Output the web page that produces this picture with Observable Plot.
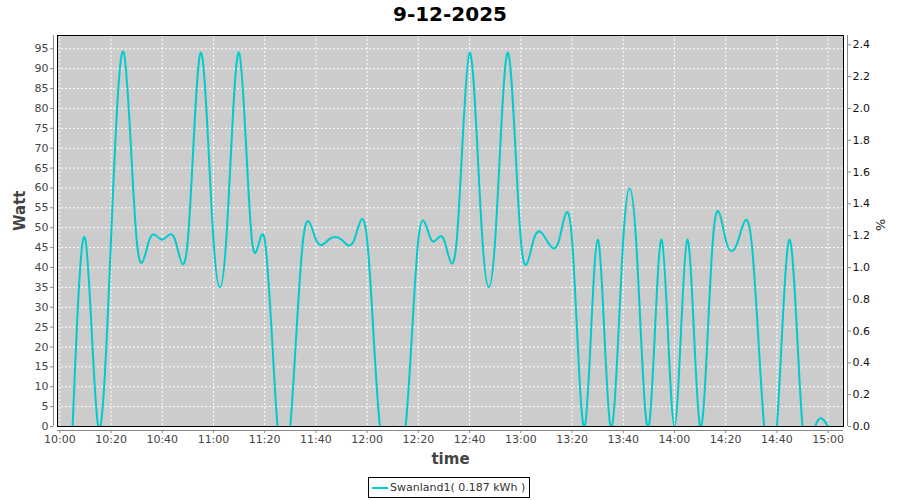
<!DOCTYPE html>
<html>
<head>
<meta charset="utf-8">
<script src="https://cdn.jsdelivr.net/npm/d3@7"></script>
<script src="https://cdn.jsdelivr.net/npm/@observablehq/plot@0.6"></script>
<style>
  body { margin: 0; background: #ffffff; }
  #wrap { position: relative; width: 900px; height: 500px; font-family: "DejaVu Sans", sans-serif; }
  #chart { position: absolute; left: 0; top: 0; }
  #title { position: absolute; left: 0; top: 2px; width: 900px; text-align: center;
           font-weight: bold; font-size: 20px; color: #000; line-height: 24px; }
  #legend { position: absolute; left: 368px; top: 477px; height: 19px; padding: 0 4px 0 3px;
            border: 1px solid #000; background: #fff; font-size: 11px; color: #333;
            display: flex; align-items: center; white-space: nowrap; }
  #legend .sw { display: inline-block; width: 16px; height: 2px; background: #00cccc; margin-right: 2px; }
</style>
</head>
<body>
<div id="wrap">
  <div id="chart"></div>
  <div id="title"></div>
  <div id="legend"><span class="sw"></span><span id="legtext"></span></div>
</div>
<script>
// ---- data ----
const chartTitle = "9-12-2025";
const seriesName = "Swanland1( 0.187 kWh )";
const times = [
  "10:05","10:10","10:15","10:20","10:25","10:30","10:35","10:40","10:45","10:50","10:55",
  "11:00","11:05","11:10","11:15","11:20","11:25","11:30","11:35","11:40","11:45","11:50","11:55",
  "12:00","12:05","12:10","12:15","12:20","12:25","12:30","12:35","12:40","12:45","12:50","12:55",
  "13:00","13:05","13:10","13:15","13:20","13:25","13:30","13:35","13:40","13:45","13:50","13:55",
  "14:00","14:05","14:10","14:15","14:20","14:25","14:30","14:35","14:40","14:45","14:50","14:55",
  "15:00"
];
const watts = [
  0,47,0,47,94,47,47,47,47,47,94,
  47,47,94,47,47,0,0,47,47,47,47,47,
  47,0,0,0,47,47,47,47,94,47,47,94,
  47,47,47,47,47,0,47,0,47,47,0,47,
  0,47,0,47,47,47,47,0,0,47,0,0,
  0
];
const wattTicks = [0,5,10,15,20,25,30,35,40,45,50,55,60,65,70,75,80,85,90,95];
const pctTicks = [0,0.2,0.4,0.6,0.8,1.0,1.2,1.4,1.6,1.8,2.0,2.2,2.4];
const timeTickLabels = ["10:00","10:20","10:40","11:00","11:20","11:40","12:00","12:20","12:40",
  "13:00","13:20","13:40","14:00","14:20","14:40","15:00"];
const wattPerPct = 40;

// ---- build ----
const parse = d3.utcParse("%H:%M");
const data = times.map((t, i) => ({time: parse(t), watt: watts[i]}));
const timeTicks = timeTickLabels.map(parse);
const xMin = new Date(parse("10:00").getTime() - 0.9 * 60000);
const xMax = new Date(parse("15:00").getTime() + 6 * 60000);
const fmt = d3.utcFormat("%H:%M");

document.getElementById("title").textContent = chartTitle;
document.getElementById("legtext").textContent = seriesName;

const chart = Plot.plot({
  width: 900,
  height: 500,
  marginLeft: 57,
  marginRight: 57,
  marginTop: 35,
  marginBottom: 74,
  style: {fontFamily: "DejaVu Sans, sans-serif", fontSize: "11px", background: "transparent", overflow: "visible"},
  x: {type: "utc", domain: [xMin, xMax]},
  y: {domain: [0, 98.35]},
  marks: [
    Plot.frame({fill: "#cccccc"}),
    Plot.gridY({ticks: wattTicks.filter(v => v > 0), stroke: "#ffffff", strokeOpacity: 1, strokeWidth: 1, strokeDasharray: "2,2"}),
    Plot.gridX({ticks: timeTicks, stroke: "#ffffff", strokeOpacity: 1, strokeWidth: 1, strokeDasharray: "2,2"}),
    Plot.lineY(data, {x: "time", y: "watt", curve: "natural", stroke: "#00cccc", strokeWidth: 2, clip: true}),
    Plot.frame({stroke: "#000000", strokeWidth: 1}),
    // axis lines
    Plot.ruleX([xMin], {dx: -4, stroke: "#888888"}),
    Plot.ruleX([xMax], {dx: 4, stroke: "#888888"}),
    Plot.ruleY([0], {dy: 4, stroke: "#888888"}),
    // axes
    Plot.axisY({anchor: "left", ticks: wattTicks, dx: -4, tickSize: 3, tickPadding: 2, label: null,
      stroke: "#888888", fill: "#444444", tickFormat: d => String(d)}),
    Plot.axisY({anchor: "right", ticks: pctTicks.map(p => p * wattPerPct), dx: 4, tickSize: 3, tickPadding: 2, label: null,
      stroke: "#888888", fill: "#111111", tickFormat: d => (d / wattPerPct).toFixed(1)}),
    Plot.axisX({anchor: "bottom", ticks: timeTicks, dy: 4, tickSize: 3, tickPadding: 2, label: null,
      stroke: "#888888", fill: "#444444", tickFormat: fmt}),
    // axis labels
    Plot.text(["Watt"], {frameAnchor: "left", dx: -37, rotate: -90, fontWeight: "bold", fontSize: 15, fill: "#444444"}),
    Plot.text(["%"], {frameAnchor: "right", dx: 37, rotate: 90, fontSize: 13, fill: "#222222"}),
    Plot.text(["time"], {frameAnchor: "bottom", dy: 37, fontWeight: "bold", fontSize: 15, fill: "#444444"})
  ]
});
document.getElementById("chart").appendChild(chart);
</script>
</body>
</html>
